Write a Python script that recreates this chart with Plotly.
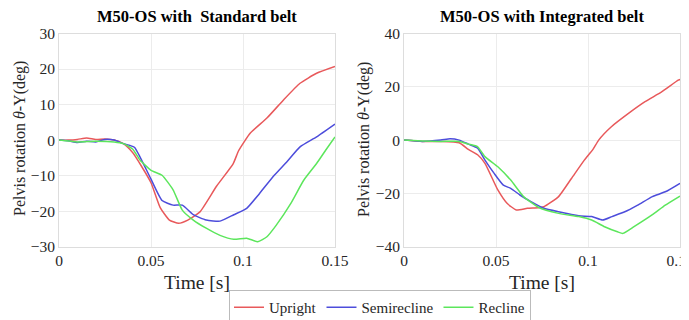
import plotly.graph_objects as go

# ---- data ----
std_upright_t = [0, 0.005, 0.01, 0.015, 0.02, 0.025, 0.03, 0.035, 0.04, 0.045, 0.05, 0.055, 0.06, 0.065, 0.07, 0.0766, 0.0856, 0.0947, 0.0976, 0.104, 0.113, 0.122, 0.131, 0.140, 0.15]
std_upright_v = [0, 0, 0.2, 0.6, 0.2, 0.3, 0, -1, -3.5, -7.5, -12, -19, -22.5, -23.4, -22.5, -20.2, -13, -6.6, -3, 2, 6.2, 11.3, 16, 18.8, 20.7]
std_semi_t = [0, 0.005, 0.01, 0.015, 0.02, 0.025, 0.03, 0.035, 0.0385, 0.041, 0.044, 0.05, 0.056, 0.062, 0.067, 0.073, 0.080, 0.0875, 0.095, 0.102, 0.109, 0.117, 0.124, 0.131, 0.140, 0.15]
std_semi_v = [0, -0.2, -0.7, -0.3, -0.5, 0.2, 0, -1, -1.5, -2, -4.7, -11, -17, -18.3, -18.3, -21, -22.5, -22.8, -21, -19.2, -15, -9.9, -6, -1.9, 0.9, 4.5]
std_recl_t = [0, 0.01, 0.02, 0.03, 0.035, 0.04, 0.044, 0.05, 0.056, 0.062, 0.067, 0.073, 0.080, 0.0875, 0.095, 0.102, 0.108, 0.113, 0.118, 0.126, 0.133, 0.140, 0.145, 0.15]
std_recl_v = [0, -0.5, -0.3, -0.5, -1, -2.5, -5.6, -8.5, -9.9, -14, -19.7, -22.5, -24.8, -26.8, -27.9, -27.6, -28.6, -27.2, -24, -17.8, -11.3, -6.6, -2.8, 0.9]

int_upright_t = [0, 0.01, 0.02, 0.03, 0.035, 0.04, 0.044, 0.051, 0.056, 0.061, 0.067, 0.073, 0.076, 0.084, 0.091, 0.098, 0.1027, 0.1058, 0.1127, 0.122, 0.131, 0.140, 0.149, 0.15]
int_upright_v = [0, -0.5, -0.5, -1, -3.5, -5.5, -8.7, -18.7, -23.7, -26.2, -25.6, -25.4, -25, -21.2, -14.4, -7.5, -3.5, 0, 5, 10, 14.4, 18.1, 22.5, 22.8]
int_semi_t = [0, 0.01, 0.02, 0.025, 0.03, 0.035, 0.04, 0.044, 0.049, 0.054, 0.058, 0.063, 0.069, 0.076, 0.084, 0.095, 0.102, 0.108, 0.113, 0.120, 0.127, 0.135, 0.142, 0.15]
int_semi_v = [0, -0.5, 0, 0.5, 0, -1.5, -3, -7.5, -12.5, -16.9, -18.1, -20.6, -23.1, -25.6, -26.9, -28.4, -28.7, -30, -28.7, -26.9, -24.4, -21.2, -19.4, -16.2]
int_recl_t = [0, 0.01, 0.02, 0.03, 0.035, 0.04, 0.044, 0.051, 0.058, 0.065, 0.073, 0.084, 0.095, 0.102, 0.109, 0.116, 0.119, 0.125, 0.135, 0.142, 0.15]
int_recl_v = [0, -0.3, -0.5, -0.5, -1.5, -2.5, -6.2, -10, -15, -21.2, -25.2, -27.5, -28.7, -30, -32.5, -34.4, -35, -32.5, -28, -24.4, -21]

series_names = ["Upright", "Semirecline", "Recline"]
colors = ["#E8595B", "#4D4DDB", "#5CE65C"]
titles = ["M50-OS with  Standard belt", "M50-OS with Integrated belt"]
x_ticks = [0, 0.05, 0.1, 0.15]
x_tick_text = ["0", "0.05", "0.1", "0.15"]
y1_ticks = [-30, -20, -10, 0, 10, 20, 30]
y2_ticks = [-40, -20, 0, 20, 40]

FONT = "Liberation Serif"
# page body has an 8px margin; compensate so the figure lands where the reference is
OFF = 8
W, H = 689 - OFF, 320 - OFF


def px(X):
    return (X - OFF) / W


def py(Y):
    return 1 - (Y - OFF) / H


fig = go.Figure()
left = [(std_upright_t, std_upright_v), (std_semi_t, std_semi_v), (std_recl_t, std_recl_v)]
right = [(int_upright_t, int_upright_v), (int_semi_t, int_semi_v), (int_recl_t, int_recl_v)]
for i, (t, v) in enumerate(left):
    fig.add_trace(go.Scatter(x=t, y=v, mode="lines", name=series_names[i],
                             line=dict(color=colors[i], width=1.5, shape="spline", smoothing=0.5),
                             xaxis="x", yaxis="y", legendgroup=series_names[i]))
for i, (t, v) in enumerate(right):
    fig.add_trace(go.Scatter(x=t, y=v, mode="lines", name=series_names[i], showlegend=False,
                             line=dict(color=colors[i], width=1.5, shape="spline", smoothing=0.5),
                             xaxis="x2", yaxis="y2", legendgroup=series_names[i]))

x1d = [px(59), px(335)]
x2d = [px(404), px(680)]
yd = [py(246.7), py(33.5)]

axis_common = dict(showgrid=True, gridcolor="#ECECEC", gridwidth=1, zeroline=False,
                   showline=True, linecolor="#DDDDDD", linewidth=1, mirror=True,
                   automargin=False, ticklabeloverflow="allow",
                   ticks="", tickfont=dict(family=FONT, size=15.5, color="#262626"))

fig.update_layout(
    width=W, height=H, margin=dict(l=0, r=0, t=0, b=0, autoexpand=False),
    paper_bgcolor="white", plot_bgcolor="white",
    font=dict(family=FONT, color="#262626"),
    xaxis=dict(domain=x1d, anchor="y", range=[0, 0.15], tickvals=x_ticks, ticktext=x_tick_text, **axis_common),
    yaxis=dict(domain=yd, anchor="x", range=[-30, 30], tickvals=y1_ticks, **axis_common),
    xaxis2=dict(domain=x2d, anchor="y2", range=[0, 0.15], tickvals=x_ticks, ticktext=x_tick_text, **axis_common),
    yaxis2=dict(domain=yd, anchor="x2", range=[-40, 40], tickvals=y2_ticks, **axis_common),
    showlegend=True,
    legend=dict(orientation="h", x=px(380), xanchor="center", y=py(307.5), yanchor="middle",
                bordercolor="#BBBBBB", borderwidth=1, bgcolor="white",
                font=dict(family=FONT, size=15, color="#262626"),
                itemwidth=30, tracegroupgap=0),
)

ann = []
for xc, title in [((59 + 335) / 2, titles[0]), ((404 + 680) / 2, titles[1])]:
    ann.append(dict(text="<b>" + title + "</b>", x=px(xc), y=py(16), xref="paper", yref="paper",
                    xanchor="center", yanchor="middle", showarrow=False,
                    font=dict(family=FONT, size=16.5, color="black")))
    ann.append(dict(text="Time [s]", x=px(xc), y=py(282), xref="paper", yref="paper",
                    xanchor="center", yanchor="middle", showarrow=False,
                    font=dict(family=FONT, size=19.5, color="#262626")))
for xc in [20, 364]:
    ann.append(dict(text="Pelvis rotation <i>θ</i>-Y(deg)", x=px(xc), y=py(139), xref="paper", yref="paper",
                    xanchor="center", yanchor="middle", showarrow=False, textangle=-90,
                    font=dict(family=FONT, size=16, color="#262626")))
fig.update_layout(annotations=ann)

fig.write_html("out.html")
